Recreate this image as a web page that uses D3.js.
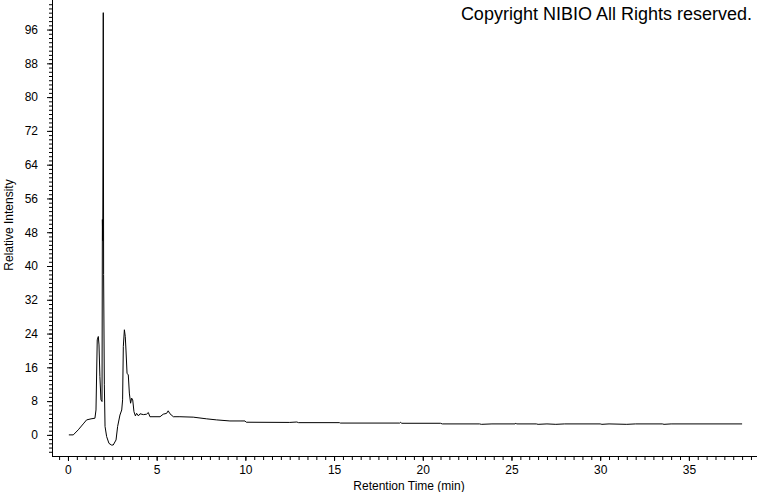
<!DOCTYPE html>
<html><head><meta charset="utf-8">
<script src="https://cdn.jsdelivr.net/npm/d3@7"></script>
<style>body{margin:0;background:#fff}svg{display:block}text{font-family:"Liberation Sans",Arial,sans-serif;fill:#000}</style>
</head><body>
<svg id="c" width="760" height="492"></svg>
<script>
const title = "Copyright NIBIO All Rights reserved.";
const xLabel = "Retention Time (min)";
const yLabel = "Relative Intensity";
const xTickLabels = [0, 5, 10, 15, 20, 25, 30, 35];
const yTickLabels = [0, 8, 16, 24, 32, 40, 48, 56, 64, 72, 80, 88, 96];
const times = [0.05,0.30,0.58,0.86,1.05,1.30,1.52,1.58,1.65,1.71,1.75,1.80,1.86,1.92,1.94,1.96,1.99,2.01,2.05,2.09,2.18,2.31,2.45,2.55,2.71,2.80,2.93,3.03,3.08,3.12,3.18,3.23,3.27,3.33,3.40,3.46,3.53,3.59,3.65,3.72,3.80,3.87,3.97,4.06,4.25,4.43,4.53,4.62,5.19,5.37,5.56,5.65,5.75,5.94,6.31,7.06,7.82,8.38,9.13,9.70,9.98,10.05,12.50,12.90,13.00,15.30,15.35,18.70,18.75,18.80,21.00,21.10,23.20,23.30,23.90,25.20,25.25,25.30,26.40,26.50,27.00,27.50,28.00,30.00,30.10,30.50,31.50,32.00,33.50,33.60,34.00,38.00];
const intensity = [0,0,1.2,2.6,3.55,3.8,3.95,5.9,22.5,23.3,21.3,13.8,8.3,7.9,51,46,100,38,12,2,-0.4,-2,-2.4,-2.4,-1.2,2,4.7,5.9,8.3,20.9,24.9,23.3,20.1,14.6,14.2,9.9,7.5,8.7,8.3,5.5,4.5,5.1,4.5,5,4.8,4.9,5.3,4.3,4.3,4.9,5.1,5.7,5,4.3,4.3,4.2,3.8,3.55,3.3,3.3,3.3,3.0,2.95,3.05,2.9,2.9,2.8,2.8,3.0,2.75,2.75,2.6,2.6,2.5,2.6,2.6,2.75,2.6,2.6,2.5,2.6,2.5,2.6,2.6,2.5,2.6,2.5,2.6,2.6,2.5,2.6,2.6];

const svg = d3.select("#c");
const x = d3.scaleLinear().domain([-0.9, 38.84]).range([52, 757]);
const y = d3.scaleLinear().domain([-5, 103]).range([456, 0]);

// title
svg.append("text").attr("x", 752).attr("y", 20).attr("text-anchor", "end")
  .style("font-size", "18px").text(title);

// y axis
const gy = svg.append("g").attr("transform", "translate(52,0)");
gy.call(d3.axisLeft(y).tickValues(d3.range(-4, 103, 1)).tickSize(3).tickFormat(""));
gy.select(".domain").remove();
const gy2 = svg.append("g").attr("transform", "translate(52,0)");
gy2.call(d3.axisLeft(y).tickValues(yTickLabels).tickSize(5).tickPadding(9).tickFormat(d3.format("d")));
gy2.select(".domain").remove();
gy2.selectAll("text").style("font-size", "12px");
svg.append("line").attr("x1", 52.5).attr("x2", 52.5).attr("y1", 0).attr("y2", 456).attr("stroke", "#000");

// x axis
const gx = svg.append("g").attr("transform", "translate(0,456)");
gx.call(d3.axisBottom(x).tickValues(d3.range(-0.5, 38.6, 0.5)).tickSize(4).tickFormat(""));
gx.select(".domain").remove();
const gx2 = svg.append("g").attr("transform", "translate(0,456)");
gx2.call(d3.axisBottom(x).tickValues(xTickLabels).tickSize(5).tickPadding(4).tickFormat(d3.format("d")));
gx2.select(".domain").remove();
gx2.selectAll("text").style("font-size", "12px");
svg.append("line").attr("x1", 52).attr("x2", 757).attr("y1", 456.5).attr("y2", 456.5).attr("stroke", "#000");
svg.selectAll(".tick line").attr("stroke", "#000");

// labels
svg.append("text").attr("transform", "translate(13,225) rotate(-90)").attr("text-anchor", "middle")
  .style("font-size", "12px").text(yLabel);
svg.append("text").attr("x", 409).attr("y", 490).attr("text-anchor", "middle")
  .style("font-size", "12px").text(xLabel);

// trace
const line = d3.line().x((d, i) => x(times[i])).y(d => y(d));
svg.append("path").datum(intensity).attr("d", line)
  .attr("fill", "none").attr("stroke", "#000").attr("stroke-width", 1);
</script>
</body></html>
